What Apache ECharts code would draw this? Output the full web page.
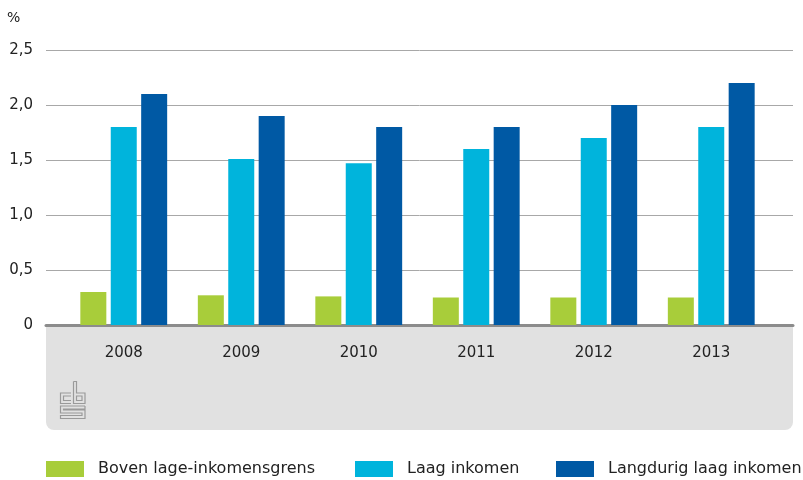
<!DOCTYPE html>
<html>
<head>
<meta charset="utf-8">
<script src="https://cdn.jsdelivr.net/npm/echarts@6/dist/echarts.min.js"></script>
<style>
  html, body { margin: 0; padding: 0; background: #ffffff; }
  #chart { width: 803px; height: 480px; }
</style>
</head>
<body>
<div id="chart"></div>
<script>
// Jaren en aandelen (%)
const years = ['2008', '2009', '2010', '2011', '2012', '2013'];
const bovenGrens = [0.30, 0.27, 0.26, 0.25, 0.25, 0.25];
const laagInkomen = [1.80, 1.51, 1.47, 1.60, 1.70, 1.80];
const langdurigLaag = [2.10, 1.90, 1.80, 1.80, 2.00, 2.20];
const seriesNames = ['Boven lage-inkomensgrens', 'Laag inkomen', 'Langdurig laag inkomen'];

const colors = ['#a8cd3a', '#00b4dc', '#0059a4'];
const font = 'DejaVu Sans';

const chart = echarts.init(document.getElementById('chart'), null, { renderer: 'canvas' });

const legendItem = (i, left) => ({
  data: [seriesNames[i]],
  left: left,
  top: 461,
  padding: 0,
  itemWidth: 38,
  itemHeight: 16,
  icon: 'rect',
  selectedMode: false,
  textStyle: { fontFamily: font, fontSize: 16, color: '#222', padding: [0, 0, 0, 9] }
});

chart.setOption({
  animation: false,
  color: colors,
  textStyle: { fontFamily: font },
  grid: [
    { left: 46, right: 10, top: 50, bottom: 155 },
    { left: 65, right: 33, top: 50, bottom: 155 }
  ],
  legend: [legendItem(0, 46), legendItem(1, 355), legendItem(2, 556)],
  graphic: [
    {
      type: 'rect', z: -10, left: 46, top: 326,
      shape: { width: 747, height: 104, r: [0, 0, 8, 8] },
      style: { fill: '#e1e1e1' }
    },
    {
      type: 'text', left: 7, top: 11,
      style: { text: '%', font: '14px "' + font + '"', fill: '#222' }
    },
    {
      // cbs-logo
      type: 'group', left: 58, top: 379,
      children: [
        { type: 'polyline', shape: { points: [[11, 12], [0.5, 12], [0.5, 22.5], [11, 22.5]] }, style: { stroke: '#9a9a9a', lineWidth: 1.2, fill: null } },
        { type: 'polyline', shape: { points: [[11, 15], [3.5, 15], [3.5, 19.5], [11, 19.5]] }, style: { stroke: '#9a9a9a', lineWidth: 1.2, fill: null } },
        { type: 'polyline', shape: { points: [[13.5, 0.5], [13.5, 22.5], [25, 22.5], [25, 12], [16.5, 12], [16.5, 0.5], [13.5, 0.5]] }, style: { stroke: '#9a9a9a', lineWidth: 1.2, fill: null } },
        { type: 'rect', shape: { x: 16.5, y: 15, width: 5.5, height: 4.5 }, style: { stroke: '#9a9a9a', lineWidth: 1.2, fill: null } },
        { type: 'polyline', shape: { points: [[25, 25], [0.5, 25], [0.5, 32], [22, 32], [22, 34.5], [0.5, 34.5], [0.5, 37.5], [25, 37.5], [25, 29], [3.5, 29], [3.5, 28], [25, 28], [25, 25]] }, style: { stroke: '#9a9a9a', lineWidth: 1.2, fill: null } }
      ]
    }
  ],
  xAxis: [
    {
      gridIndex: 0, type: 'value', min: 0, max: 1,
      axisLine: { show: true, lineStyle: { color: '#8c8c8c', width: 3 } },
      axisTick: { show: false }, axisLabel: { show: false }, splitLine: { show: false }
    },
    {
      gridIndex: 1, type: 'category', data: years,
      axisLine: { show: false }, axisTick: { show: false },
      axisLabel: { color: '#222', fontSize: 15, fontFamily: font, margin: 21 }
    }
  ],
  yAxis: [
    {
      gridIndex: 0, type: 'value', min: 0, max: 2.5, interval: 0.5,
      axisLine: { show: false }, axisTick: { show: false },
      axisLabel: {
        color: '#222', fontSize: 15, fontFamily: font, margin: 13,
        formatter: v => v === 0 ? '0' : v.toFixed(1).replace('.', ',')
      },
      splitLine: { show: true, lineStyle: { color: '#a8a8a8', width: 1 } }
    },
    {
      gridIndex: 1, type: 'value', min: 0, max: 2.5, interval: 0.5,
      show: false, splitLine: { show: false }
    }
  ],
  series: [
    { name: seriesNames[0], type: 'bar', xAxisIndex: 1, yAxisIndex: 1, data: bovenGrens, barWidth: 26, barGap: '17%' },
    { name: seriesNames[1], type: 'bar', xAxisIndex: 1, yAxisIndex: 1, data: laagInkomen, barWidth: 26, barGap: '17%' },
    { name: seriesNames[2], type: 'bar', xAxisIndex: 1, yAxisIndex: 1, data: langdurigLaag, barWidth: 26, barGap: '17%' }
  ]
});
</script>
</body>
</html>
